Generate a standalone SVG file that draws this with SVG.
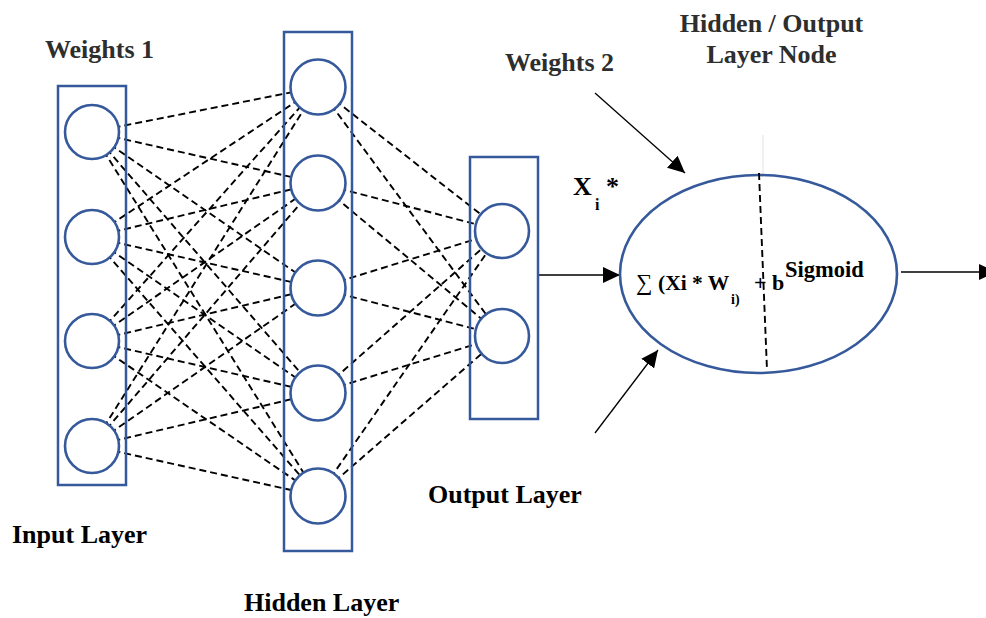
<svg xmlns="http://www.w3.org/2000/svg" width="986" height="618" viewBox="0 0 986 618">
  <defs>
    <marker id="head" markerUnits="userSpaceOnUse" markerWidth="18" markerHeight="16" refX="17" refY="8" orient="auto">
      <path d="M0,0 L17,8 L0,16 Z" fill="#000"/>
    </marker>
    <style>
      .box { fill: none; stroke: #35599a; stroke-width: 2.5; }
      .unit { fill: #fff; stroke: #35599a; stroke-width: 2.6; }
      .link { stroke: #000; stroke-width: 1.9; stroke-dasharray: 7 4; fill: none; }
      .arrow { stroke: #000; stroke-width: 1.3; fill: none; marker-end: url(#head); }
      .lbl { font-family: "Liberation Serif", "Times New Roman", serif; font-weight: bold; font-size: 26px; fill: #000; }
      .dim { fill: #2e2e2e; }
      .math { font-family: "Liberation Serif", "Times New Roman", serif; font-weight: bold; fill: #000; }
      .sym { font-family: "Liberation Serif", "DejaVu Serif", serif; font-weight: normal; fill: #000; }
    </style>
  </defs>
  <rect width="986" height="618" fill="#fff"/>

  <!-- dashed weight connections: input -> hidden, hidden -> output -->
  <g id="connectors">
    <g id="weights1">
      <line class="link" x1="92" y1="132" x2="318" y2="87"/>
      <line class="link" x1="92" y1="132" x2="318" y2="183"/>
      <line class="link" x1="92" y1="132" x2="318" y2="288"/>
      <line class="link" x1="92" y1="132" x2="318" y2="393"/>
      <line class="link" x1="92" y1="132" x2="318" y2="496"/>
      <line class="link" x1="92" y1="237" x2="318" y2="87"/>
      <line class="link" x1="92" y1="237" x2="318" y2="183"/>
      <line class="link" x1="92" y1="237" x2="318" y2="288"/>
      <line class="link" x1="92" y1="237" x2="318" y2="393"/>
      <line class="link" x1="92" y1="237" x2="318" y2="496"/>
      <line class="link" x1="92" y1="341" x2="318" y2="87"/>
      <line class="link" x1="92" y1="341" x2="318" y2="183"/>
      <line class="link" x1="92" y1="341" x2="318" y2="288"/>
      <line class="link" x1="92" y1="341" x2="318" y2="393"/>
      <line class="link" x1="92" y1="341" x2="318" y2="496"/>
      <line class="link" x1="92" y1="446" x2="318" y2="87"/>
      <line class="link" x1="92" y1="446" x2="318" y2="183"/>
      <line class="link" x1="92" y1="446" x2="318" y2="288"/>
      <line class="link" x1="92" y1="446" x2="318" y2="393"/>
      <line class="link" x1="92" y1="446" x2="318" y2="496"/>
    </g>
    <g id="weights2">
      <line class="link" x1="318" y1="87" x2="502" y2="231"/>
      <line class="link" x1="318" y1="87" x2="502" y2="336"/>
      <line class="link" x1="318" y1="183" x2="502" y2="231"/>
      <line class="link" x1="318" y1="183" x2="502" y2="336"/>
      <line class="link" x1="318" y1="288" x2="502" y2="231"/>
      <line class="link" x1="318" y1="288" x2="502" y2="336"/>
      <line class="link" x1="318" y1="393" x2="502" y2="231"/>
      <line class="link" x1="318" y1="393" x2="502" y2="336"/>
      <line class="link" x1="318" y1="496" x2="502" y2="231"/>
      <line class="link" x1="318" y1="496" x2="502" y2="336"/>
    </g>
    <g id="node-arrows">
      <line class="arrow" x1="538" y1="275" x2="620" y2="275"/>
      <line class="arrow" x1="595" y1="93" x2="685" y2="173"/>
      <line class="arrow" x1="595" y1="433" x2="658" y2="350"/>
      <line class="arrow" x1="901" y1="272" x2="996" y2="272"/>
    </g>
  </g>

  <!-- input layer -->
  <g id="input-layer">
    <rect class="box" x="58" y="86" width="68" height="399"/>
    <g id="in1"><circle class="unit" cx="92" cy="132" r="27"/></g>
    <g id="in2"><circle class="unit" cx="92" cy="237" r="27"/></g>
    <g id="in3"><circle class="unit" cx="92" cy="341" r="27"/></g>
    <g id="in4"><circle class="unit" cx="92" cy="446" r="27"/></g>
  </g>

  <!-- hidden layer -->
  <g id="hidden-layer">
    <rect class="box" x="284" y="32" width="68" height="519"/>
    <g id="h1"><circle class="unit" cx="318" cy="87" r="27.5"/></g>
    <g id="h2"><circle class="unit" cx="318" cy="183" r="27.5"/></g>
    <g id="h3"><circle class="unit" cx="318" cy="288" r="27.5"/></g>
    <g id="h4"><circle class="unit" cx="318" cy="393" r="27.5"/></g>
    <g id="h5"><circle class="unit" cx="318" cy="496" r="27.5"/></g>
  </g>

  <!-- output layer -->
  <g id="output-layer">
    <rect class="box" x="470" y="157" width="68" height="262"/>
    <g id="o1"><circle class="unit" cx="502" cy="231" r="27"/></g>
    <g id="o2"><circle class="unit" cx="502" cy="336" r="27"/></g>
  </g>

  <!-- single neuron: weighted sum + sigmoid -->
  <g id="neuron">
    <line x1="763" y1="135" x2="763" y2="175" stroke="#e2e2e2" stroke-width="1"/>
    <ellipse cx="758.5" cy="274" rx="138.5" ry="99" fill="none" stroke="#35599a" stroke-width="2.6"/>
    <line class="link" x1="759" y1="173" x2="767" y2="370"/>
    <text class="sym" x="636" y="290" font-size="23">∑</text>
    <text class="math" x="658" y="290" font-size="21.5">(Xi * W</text>
    <text class="math" x="731" y="304" font-size="14">i)</text>
    <text class="math" x="754" y="290" font-size="22">+ b</text>
    <text class="math" x="785" y="277" font-size="22.5">Sigmoid</text>
  </g>

  <!-- labels -->
  <g id="labels">
    <text class="lbl dim" x="45" y="58">Weights 1</text>
    <text class="lbl dim" x="505" y="71">Weights 2</text>
    <text class="lbl dim" x="771.5" y="32" text-anchor="middle">Hidden / Output</text>
    <text class="lbl dim" x="771.5" y="63" text-anchor="middle">Layer Node</text>
    <text class="lbl" x="12" y="543">Input Layer</text>
    <text class="lbl" x="428" y="503">Output Layer</text>
    <text class="lbl" x="244" y="611">Hidden Layer</text>
    <text class="math" x="573" y="195" font-size="26">X</text>
    <text class="math" x="595" y="210" font-size="16">i</text>
    <text class="math" x="606" y="195" font-size="26">*</text>
  </g>
</svg>
